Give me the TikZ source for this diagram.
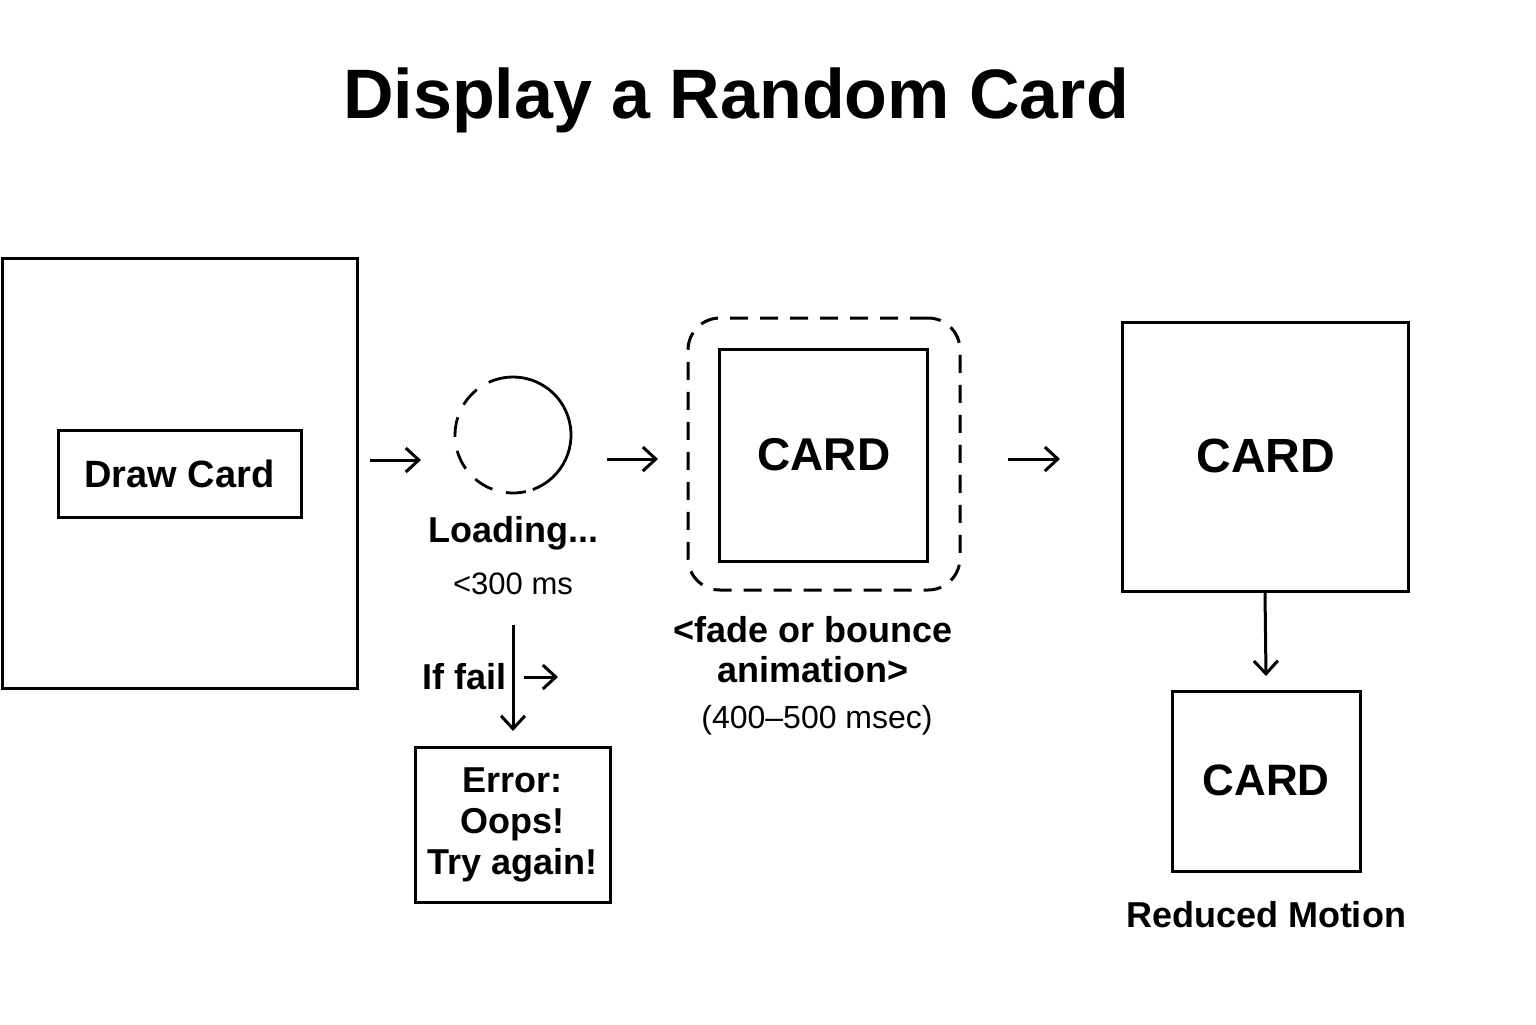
\documentclass[tikz,border=0pt]{standalone}
\usepackage{fontspec}
\setmainfont{Liberation Sans}
\usetikzlibrary{arrows.meta}
\begin{document}
\begin{tikzpicture}[x=0.5pt,y=-0.5pt,
  box/.style={draw,line width=1.5pt,inner sep=0pt},
  arr/.style={line width=1.5pt,-{Straight Barb[length=6.5pt,width=12pt,line width=1.5pt]}},
  lbl/.style={inner sep=0pt,font=\bfseries\fontsize{18}{20}\selectfont,align=center},
  sub/.style={inner sep=0pt,font=\fontsize{16}{19}\selectfont,align=center},
  cardtxt/.style={inner sep=0pt,font=\bfseries\fontsize{24}{28}\selectfont}]
\useasboundingbox (0,0) rectangle (1536,1024);
\node[inner sep=0pt,font=\bfseries\fontsize{35}{40}\selectfont] (title) at (736,100) {Display a Random Card};
% left panel
\node[box,minimum width=355pt*0.5,minimum height=430pt*0.5] (panel) at (179.5,473) {};
\node[box,minimum width=243pt*0.5,minimum height=87pt*0.5,font=\bfseries\fontsize{19}{22}\selectfont] (draw) at (179.5,473.5) {Draw Card};
% arrow 1
\coordinate (a1s) at (370,460); \coordinate (a1e) at (421,460);
\draw[arr] (a1s) -- (a1e);
% loading circle
\coordinate (lc) at (513,435);
\draw[line width=1.4pt] (lc) ++(70:58) arc[start angle=70,end angle=-95,radius=58];
\draw[line width=1.4pt,dash pattern=on 10pt off 7pt] (lc) ++(-95:58) arc[start angle=-95,end angle=-290,radius=58];
\node[lbl] (loading) at (513,533) {Loading...};
\node[sub,font=\fontsize{15.5}{19}\selectfont] (ms) at (513,584) {<300 ms};
% arrow 2
\coordinate (a2s) at (607,459); \coordinate (a2e) at (658,459);
\draw[arr] (a2s) -- (a2e);
% animated card
\node[draw,line width=1.5pt,dash pattern=on 9pt off 6pt,rounded corners=16pt,minimum width=272pt*0.5,minimum height=272pt*0.5] (anim) at (824,454) {};
\node[box,minimum width=208pt*0.5,minimum height=212pt*0.5] (card1) at (823,455) {};
\node[cardtxt,font=\bfseries\fontsize{23}{28}\selectfont] (c1t) at (824,455) {CARD};
\node[lbl] (fade) at (813,650) {<fade or bounce\\animation>};
\node[sub] (msec) at (817,720) {(400–500 msec)};
% arrow 3
\coordinate (a3s) at (1008,459); \coordinate (a3e) at (1060,459);
\draw[arr] (a3s) -- (a3e);
% right card
\node[box,minimum width=286pt*0.5,minimum height=269pt*0.5] (card2) at (1265,456.5) {};
\node[cardtxt] (c2t) at (1266,456) {CARD};
\node[box,minimum width=188pt*0.5,minimum height=180pt*0.5] (card3) at (1266,781) {};
\node[cardtxt,font=\bfseries\fontsize{22}{28}\selectfont] (c3t) at (1266,780) {CARD};
\coordinate (d3) at (1266,676);
\draw[arr] (card2.south) -- (d3);
\node[lbl] (reduced) at (1266,915) {Reduced Motion};
% fail branch
\coordinate (f1) at (513,625); \coordinate (f2) at (513,731);
\draw[arr] (f1) -- (f2);
\node[lbl,anchor=east] (iffail) at (507,677) {If fail};
\coordinate (fa) at (524,677); \coordinate (fb) at (558,677);
\draw[arr] (fa) -- (fb);
\node[box,minimum width=195pt*0.5,minimum height=155pt*0.5,align=center,font=\bfseries\fontsize{18}{20.5}\selectfont] (err) at (512.5,824.5) {Error:\\Oops!\\Try again!};
\end{tikzpicture}
\end{document}
